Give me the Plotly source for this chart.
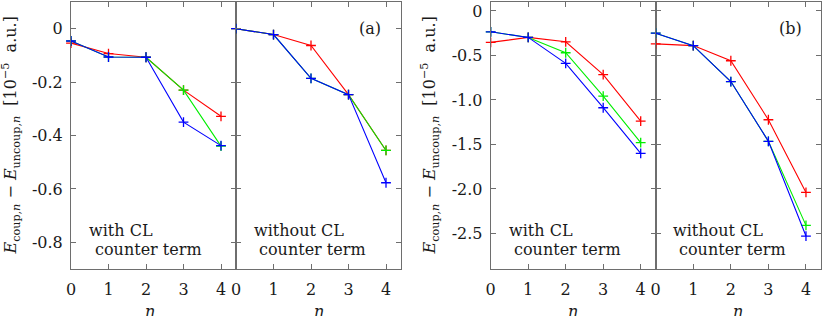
import plotly.graph_objects as go

n = [0, 1, 2, 3, 4]

# Panel (a): with CL counter term
a_with_red = [-0.054, -0.093, -0.107, -0.230, -0.328]
a_with_green = [-0.046, -0.106, -0.107, -0.230, -0.440]
a_with_blue = [-0.046, -0.106, -0.107, -0.350, -0.438]
# Panel (a): without CL counter term
a_wo_red = [0.000, -0.022, -0.063, -0.247, -0.456]
a_wo_green = [0.000, -0.022, -0.186, -0.247, -0.456]
a_wo_blue = [0.000, -0.022, -0.186, -0.247, -0.577]
# Panel (b): with CL counter term
b_with_red = [-0.354, -0.298, -0.347, -0.716, -1.238]
b_with_green = [-0.235, -0.298, -0.470, -0.958, -1.480]
b_with_blue = [-0.235, -0.298, -0.590, -1.088, -1.600]
# Panel (b): without CL counter term
b_wo_red = [-0.370, -0.390, -0.560, -1.223, -2.040]
b_wo_green = [-0.250, -0.390, -0.794, -1.465, -2.410]
b_wo_blue = [-0.250, -0.390, -0.794, -1.465, -2.530]

a_ticks = [0, -0.2, -0.4, -0.6, -0.8]
a_ticklabels = ["0", "-0.2", "-0.4", "-0.6", "-0.8"]
b_ticks = [0, -0.5, -1.0, -1.5, -2.0, -2.5]
b_ticklabels = ["0", "-0.5", "-1.0", "-1.5", "-2.0", "-2.5"]

colors = {"red": "#ff0000", "green": "#00ee00", "blue": "#0000ff"}
FONT = "DejaVu Serif"
AX = "#6e6e6e"
TXT = "#1a1a1a"

fig = go.Figure()

panels = [
    ("x", "y", [a_with_red, a_with_green, a_with_blue]),
    ("x2", "y2", [a_wo_red, a_wo_green, a_wo_blue]),
    ("x3", "y3", [b_with_red, b_with_green, b_with_blue]),
    ("x4", "y4", [b_wo_red, b_wo_green, b_wo_blue]),
]
for xa, ya, series in panels:
    for vals, c in zip(series, ["red", "green", "blue"]):
        fig.add_trace(go.Scatter(
            x=n, y=vals, xaxis=xa, yaxis=ya, mode="lines+markers",
            line=dict(color=colors[c], width=1.1),
            marker=dict(symbol="cross-thin", size=7,
                        line=dict(color=colors[c], width=1.3)),
            showlegend=False, cliponaxis=False))

W, L, R = 822, 71, 1
pw = W - L - R
def px(p):
    return (p - L) / pw

doms = [(px(71), px(236)), (px(236), px(401)), (px(490.7), px(655.7)), (px(655.7), 1.0)]

def xaxis(dom):
    return dict(domain=list(dom), range=[0, 4.4], tickvals=n,
                ticktext=[str(v) for v in n], ticks="inside", ticklen=5,
                tickcolor=AX, tickwidth=1, showline=True, linecolor=AX,
                linewidth=1, mirror="ticks", showgrid=False, zeroline=False,
                tickfont=dict(family=FONT, size=16, color=TXT),
                ticklabelstandoff=6, automargin=False)

def yaxis(rng, tv, tt, show, anchor):
    return dict(range=rng, tickvals=tv, ticktext=tt, ticks="inside", ticklen=5,
                tickcolor=AX, tickwidth=1, showline=True, linecolor=AX,
                linewidth=1, mirror="ticks", showgrid=False, zeroline=False,
                showticklabels=show, anchor=anchor,
                tickfont=dict(family=FONT, size=16, color=TXT),
                ticklabelstandoff=4, automargin=False)

fig.update_layout(
    width=822, height=316,
    margin=dict(l=L, r=R, t=2, b=47, autoexpand=False),
    plot_bgcolor="white", paper_bgcolor="white",
    xaxis=dict(**xaxis(doms[0]), anchor="y"),
    xaxis2=dict(**xaxis(doms[1]), anchor="y2"),
    xaxis3=dict(**xaxis(doms[2]), anchor="y3"),
    xaxis4=dict(**xaxis(doms[3]), anchor="y4"),
    yaxis=yaxis([-0.9, 0.1], a_ticks, a_ticklabels, True, "x"),
    yaxis2=yaxis([-0.9, 0.1], a_ticks, a_ticklabels, False, "x2"),
    yaxis3=yaxis([-2.9, 0.1], b_ticks, b_ticklabels, True, "x3"),
    yaxis4=yaxis([-2.9, 0.1], b_ticks, b_ticklabels, False, "x4"),
)

ytitle = "<i>E</i><sub>coup,<i>n</i></sub> − <i>E</i><sub>uncoup,<i>n</i></sub>  [10<sup>−5</sup>  a.u.]"
H_BOT = 269
ph = 316 - 2 - 47
def py(p):
    return (H_BOT - p) / ph

ann = []
for xc in [11, 430]:
    ann.append(dict(text=ytitle, x=px(xc), y=py(135.5), xref="paper", yref="paper",
                    textangle=-90, showarrow=False, xanchor="center", yanchor="middle",
                    font=dict(family=FONT, size=16, color=TXT)))
for xc in [150, 318.5, 573.2, 737.5]:
    ann.append(dict(text="<i>n</i>", x=px(xc), y=py(310.5), xref="paper", yref="paper",
                    showarrow=False, xanchor="center", yanchor="middle",
                    height=10, valign="middle",
                    font=dict(family=FONT, size=16, color=TXT)))
for txt, xc in [("(a)", 370), ("(b)", 790)]:
    ann.append(dict(text=txt, x=px(xc), y=py(28), xref="paper", yref="paper",
                    showarrow=False, xanchor="center", yanchor="middle",
                    font=dict(family=FONT, size=16, color=TXT)))
for l1, x1, x2 in [("with CL", 87, 92.7), ("without CL", 251.7, 257.3),
                   ("with CL", 506.7, 512.3), ("without CL", 671, 676.7)]:
    ann.append(dict(text=l1, x=px(x1), y=py(230), xref="paper", yref="paper",
                    showarrow=False, xanchor="left", yanchor="middle",
                    font=dict(family=FONT, size=16, color=TXT)))
    ann.append(dict(text="counter term", x=px(x2), y=py(249.3), xref="paper", yref="paper",
                    showarrow=False, xanchor="left", yanchor="middle",
                    font=dict(family=FONT, size=16, color=TXT)))
fig.update_layout(annotations=ann)

fig.write_html("out.html", config={"displayModeBar": False},
               post_script="document.body.style.margin='0';document.body.style.overflow='hidden';")
